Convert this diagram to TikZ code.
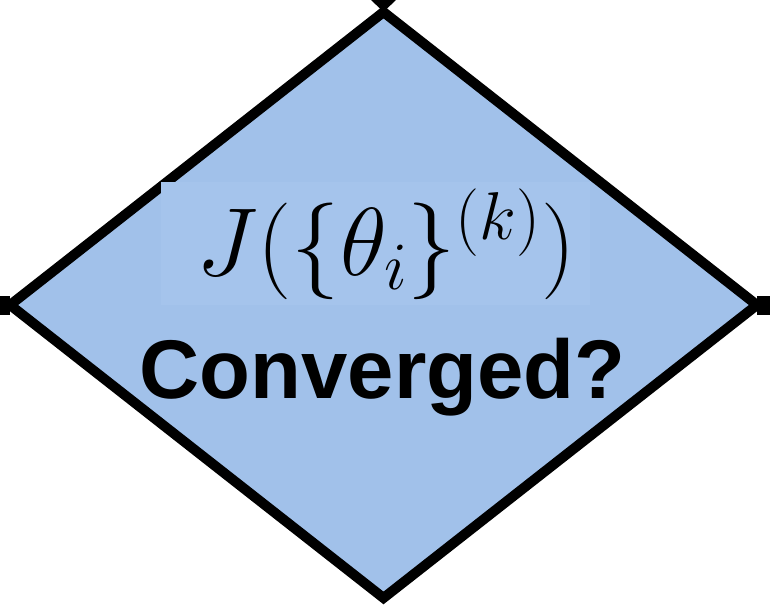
\RequirePackage{fix-cm}
\documentclass[tikz,border=0pt]{standalone}
\usepackage{fontspec}
\setsansfont{Liberation Sans}
\usepackage{amsmath}
\usepackage{tikz}
\usetikzlibrary{positioning,shapes.geometric,arrows.meta}
\definecolor{DiamondBlue}{HTML}{A1C1EA}
\definecolor{PatchBlue}{HTML}{A5C4EC}

\begin{document}
\begin{tikzpicture}[
  x=0.02cm, y=-0.02cm,
  % --- decision box ---
  decision/.style={diamond, draw=black, line width=0.2cm, fill=DiamondBlue,
    minimum width=14.94cm, minimum height=11.72cm, inner sep=0pt, outer sep=0pt},
  stub/.style={draw=black, line width=0.38cm},
  inflow/.style={draw=black, line width=0.2cm, -{Triangle[length=0.32cm,width=0.64cm]}},
  patch/.style={fill=PatchBlue, draw=none, inner sep=0pt, anchor=north west,
    minimum width=8.58cm, minimum height=2.46cm},
  mathlbl/.style={font=\fontsize{55}{60}\selectfont, anchor=base, inner sep=0pt},
  asklbl/.style={font=\fontsize{47.4}{52}\selectfont\sffamily\bfseries, anchor=base, inner sep=0pt},
]
\useasboundingbox (0,0) rectangle (770,605);

% =================== DECISION ===================
\node[decision] (conv) at (383.5,305) {};

% incoming / outgoing stubs
\coordinate (inT) at (383.5,-40);
\coordinate (outL) at (-10,305);
\coordinate (outR) at (780,305);
\draw[inflow] (inT) -- (conv.north);
\draw[stub] (conv.west) -- (outL);
\draw[stub] (conv.east) -- (outR);

% =================== LABELS ===================
\node[patch] (eqbg) at (161,182) {};
\node[mathlbl] (cost) at (386,275) {$J(\{\theta_i\}^{(k)})$};
\node[asklbl] (ask) at (382.5,398) {Converged?};

\end{tikzpicture}
\end{document}
